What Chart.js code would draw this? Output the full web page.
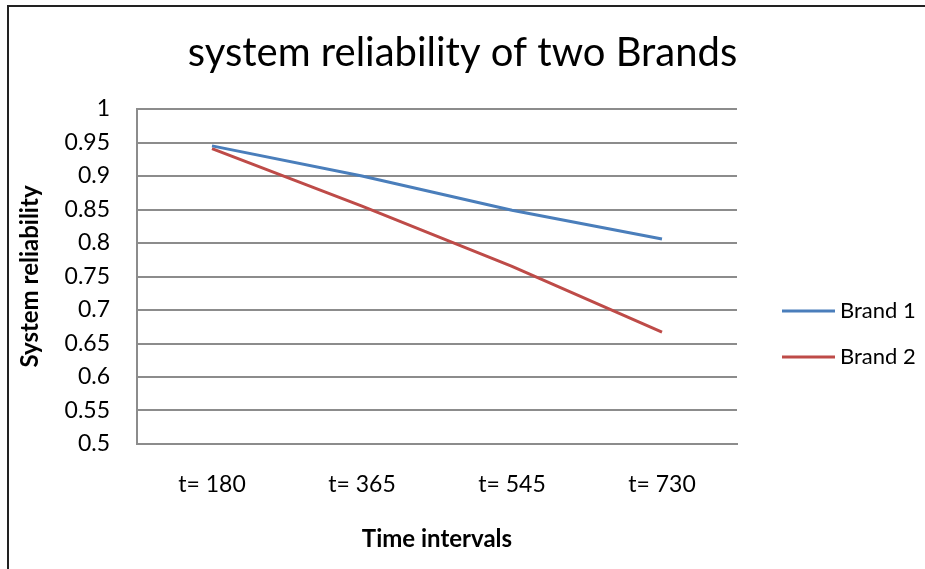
<!DOCTYPE html>
<html>
<head>
<meta charset="utf-8">
<script src="https://cdn.jsdelivr.net/npm/chart.js@4"></script>
<style>
    body { margin: 0; background: #fff; }
    #wrap { position: relative; width: 925px; height: 569px; overflow: hidden; }
    #frame { position: absolute; left: 7px; top: 5px; width: 940px; height: 600px; border-left: 2px solid #222; border-top: 2px solid #222; }
    canvas { position: absolute; left: 0; top: 0; }
</style>
</head>
<body>
<div id="wrap">
    <div id="frame"></div>
    <canvas id="chart" width="925" height="569"></canvas>
</div>
<script>
const CATEGORIES = ['t= 180', 't= 365', 't= 545', 't= 730']
const BRAND_1 = [0.945, 0.9, 0.849, 0.806]
const BRAND_2 = [0.941, 0.855, 0.765, 0.667]
const SERIES_NAMES = ['Brand 1', 'Brand 2']
const SERIES_COLORS = ['#4a7ebb', '#be4b48']

const FONT = 'Lato, Calibri, "Open Sans", sans-serif'
const GRID = '#8c8c8c'

// legend drawn on the right like Excel does it
const sideLegend = {
    id: 'sideLegend',
    afterDraw: chart => {
        const ctx = chart.ctx
        ctx.save()
        chart.data.datasets.forEach((ds, i) => {
            const y = 311 + i * 46
            ctx.strokeStyle = ds.borderColor
            ctx.lineWidth = 3
            ctx.beginPath()
            ctx.moveTo(782, y)
            ctx.lineTo(835, y)
            ctx.stroke()
            ctx.fillStyle = '#000'
            ctx.font = `22px ${FONT}`
            ctx.textBaseline = 'middle'
            ctx.fillText(ds.label, 840, y)
        })
        ctx.restore()
    }
}

window.onload = _ => {
    const ctx = document.getElementById('chart').getContext('2d')
    new Chart(ctx, {
        type: 'line',
        data: {
            labels: CATEGORIES,
            datasets: [BRAND_1, BRAND_2].map((d, i) => ({
                label: SERIES_NAMES[i],
                data: d,
                borderColor: SERIES_COLORS[i],
                backgroundColor: SERIES_COLORS[i],
                borderWidth: 3,
                pointRadius: 0,
                tension: 0,
                yAxisID: 'y'
            }))
        },
        options: {
            responsive: false,
            animation: false,
            layout: { padding: 0 },
            plugins: {
                legend: { display: false },
                tooltip: { enabled: false },
                title: {
                    display: true,
                    text: 'system reliability of two Brands',
                    color: '#000',
                    font: { family: FONT, size: 40, weight: 'normal' },
                    padding: { top: 29, bottom: 32 }
                }
            },
            scales: {
                x: {
                    offset: true,
                    grid: { display: false, drawTicks: false },
                    border: { display: true, color: GRID, width: 2 },
                    ticks: { color: '#000', font: { family: FONT, size: 23 }, padding: 27, maxRotation: 0 },
                    title: {
                        display: true,
                        text: 'Time intervals',
                        color: '#000',
                        font: { family: FONT, size: 24, weight: 'bold' },
                        padding: { top: 0, bottom: 15 }
                    },
                    afterFit: s => { s.height = 125 }
                },
                y: {
                    min: 0.5,
                    max: 1,
                    grid: { color: GRID, lineWidth: 2, drawTicks: false },
                    border: { display: true, color: GRID, width: 2 },
                    ticks: {
                        stepSize: 0.05,
                        color: '#000',
                        font: { family: FONT, size: 23 },
                        padding: 27,
                        callback: v => String(+v.toFixed(2))
                    },
                    title: {
                        display: true,
                        text: 'System reliability',
                        color: '#000',
                        font: { family: FONT, size: 24, weight: 'bold' },
                        padding: { top: 16, bottom: 0 }
                    },
                    afterFit: s => { s.width = 137 }
                },
                side: {
                    position: 'right',
                    display: true,
                    grid: { display: false },
                    border: { display: false },
                    ticks: { display: false },
                    afterFit: s => { s.width = 188 }
                }
            }
        },
        plugins: [sideLegend]
    })
}
</script>
</body>
</html>
